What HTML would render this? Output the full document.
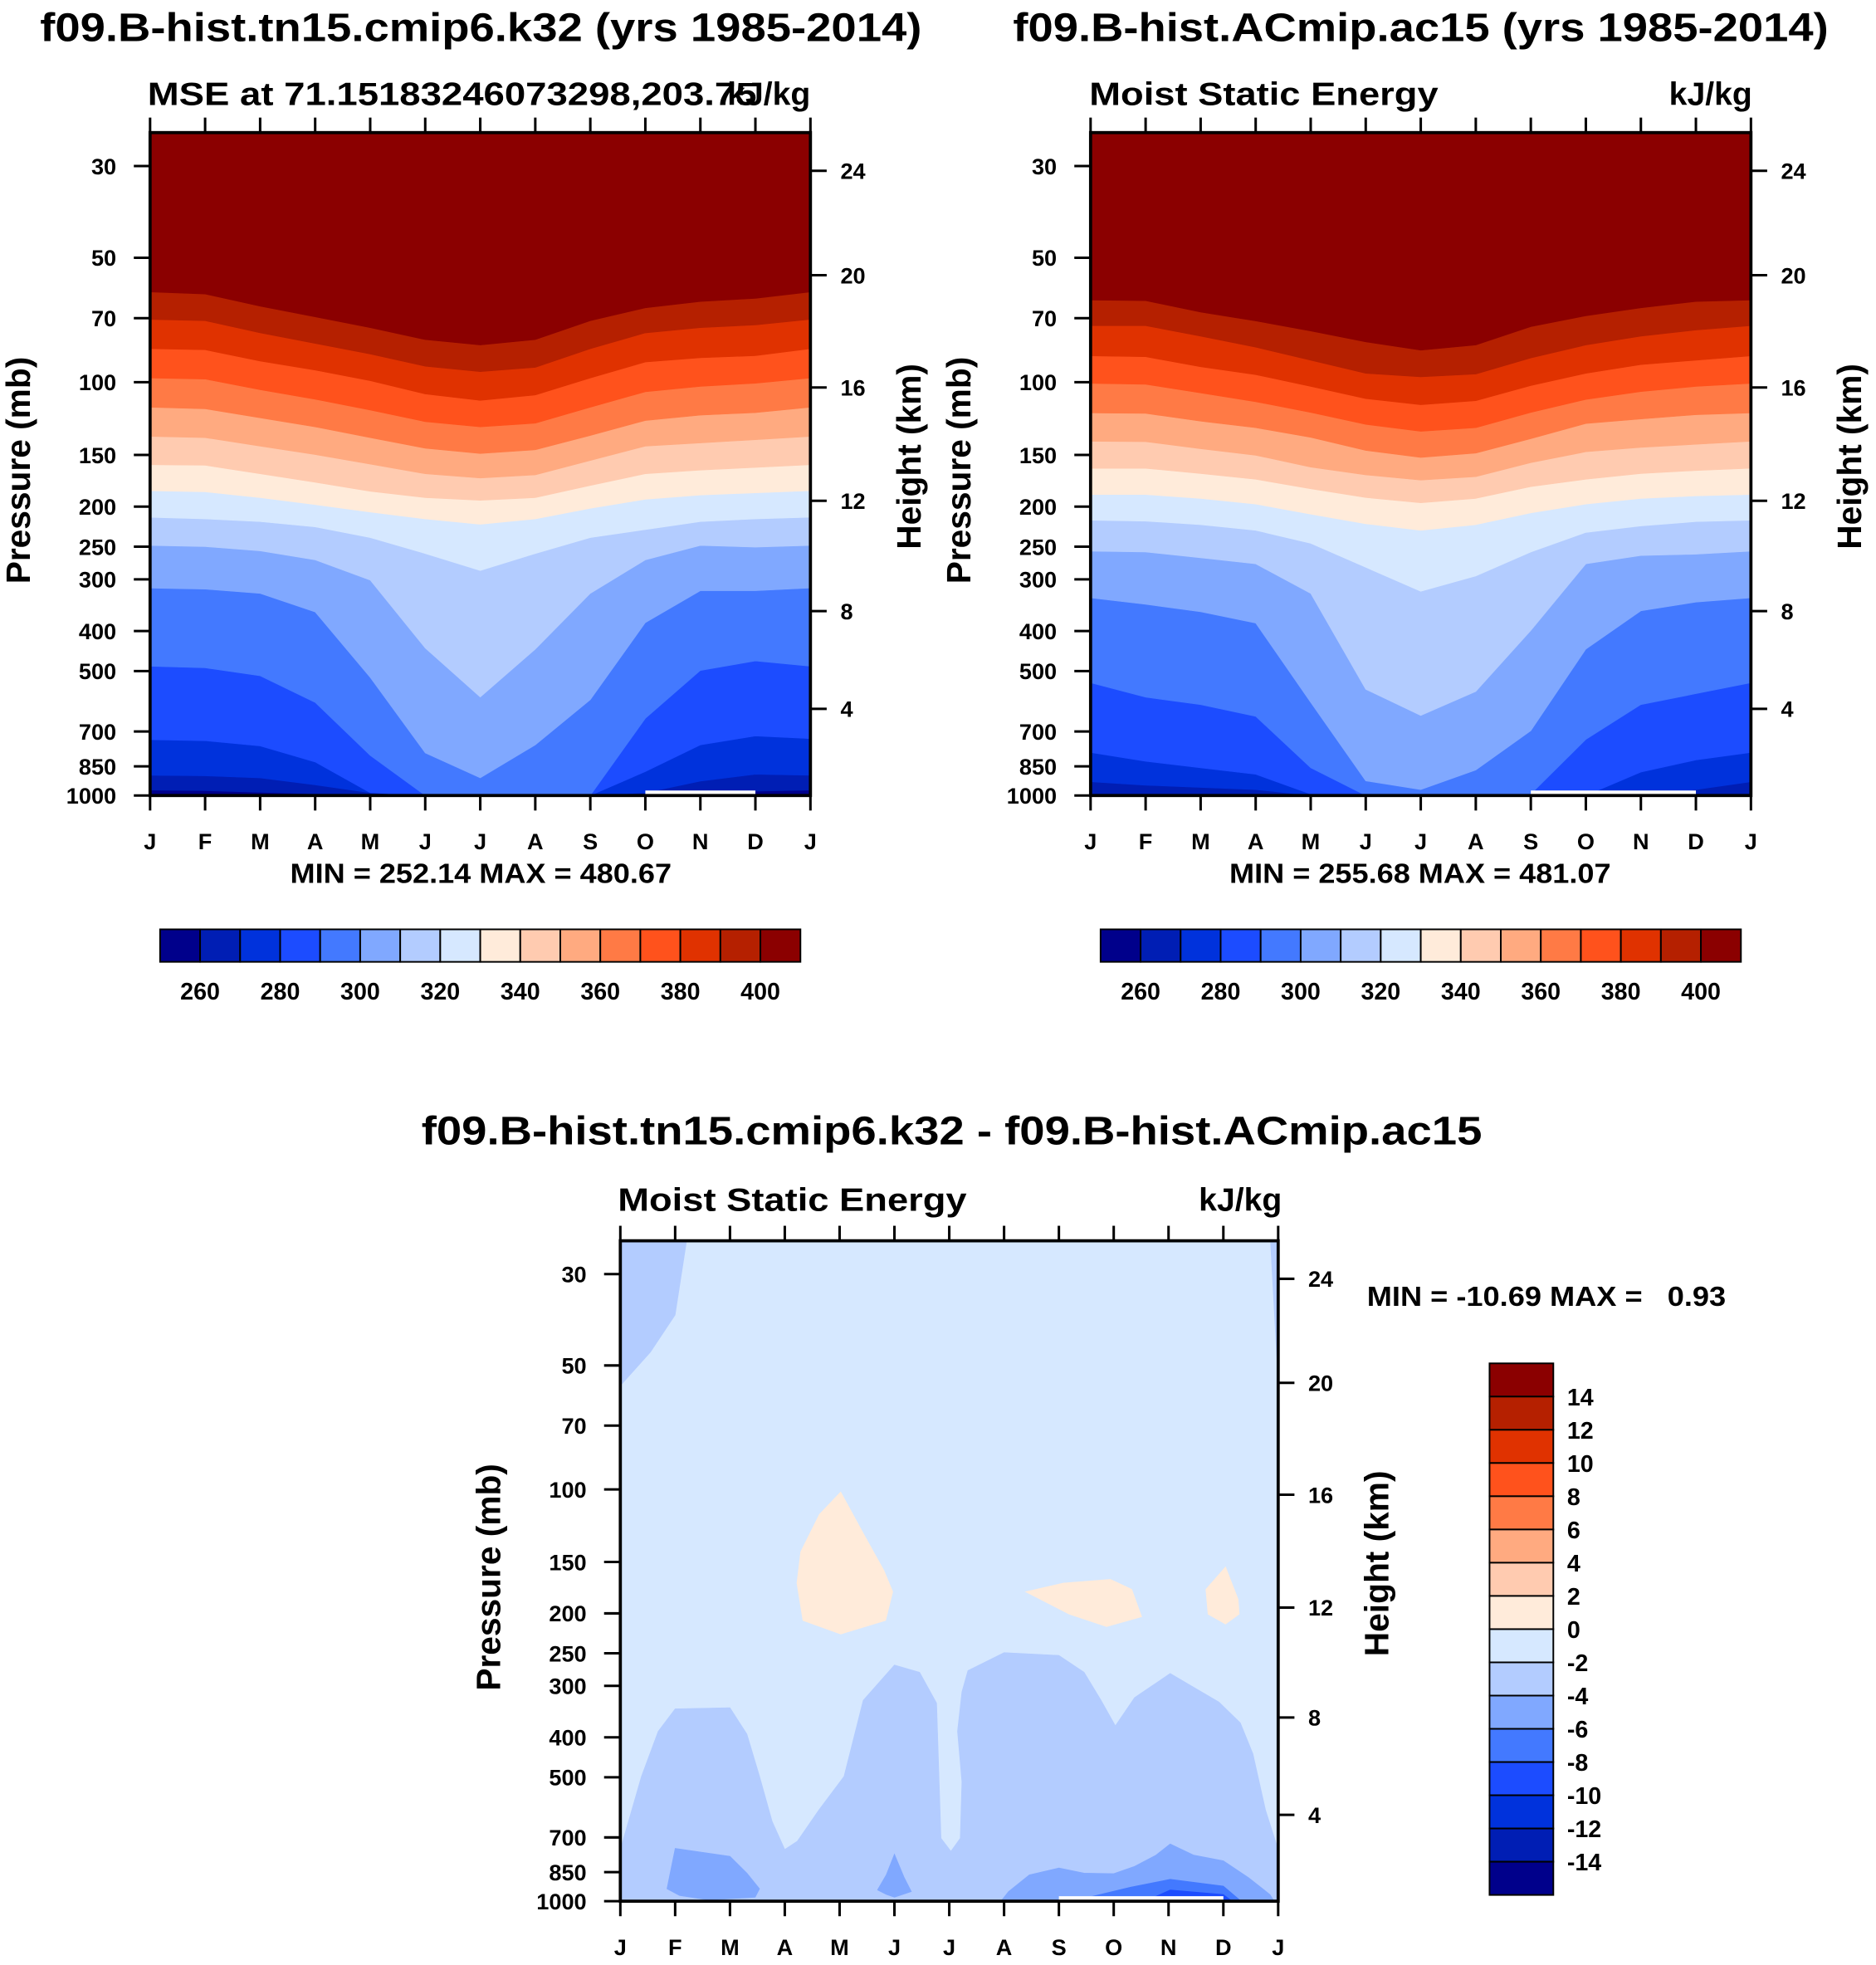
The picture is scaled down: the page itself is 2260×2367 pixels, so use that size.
<!DOCTYPE html>
<html><head><meta charset="utf-8">
<style>
html,body{margin:0;padding:0;background:#fff;}
svg{display:block;}
text{font-family:"Liberation Sans",Arial,sans-serif;font-weight:bold;fill:#000;}
</style></head>
<body>
<svg id="fig" xmlns="http://www.w3.org/2000/svg" width="2260" height="2367" viewBox="0 0 1500 1571">
<rect x="0" y="0" width="1500" height="1571" fill="#fff"/>
</svg>
<script>
// ---------- data ----------
const monthLabels = ["J","F","M","A","M","J","J","A","S","O","N","D","J"];
const pressureTicks = [30,50,70,100,150,200,250,300,400,500,700,850,1000];
const heightTicks = [24,20,16,12,8,4];
const heightTickPressures = [30.8,55.1,103,193.6,358,617];
const mseColors = ["#00008B","#001EB4","#0032DC","#1C4CFF","#4379FF","#80A8FF","#B3CCFF","#D6E8FF","#FFEBDA","#FFCBB0","#FFAA80","#FF7A45","#FF521C","#E03200","#B52000","#8B0000"];
const mseLevels = [260,270,280,290,300,310,320,330,340,350,360,370,380,390,400];
const mseBarLabels = [260,280,300,320,340,360,380,400];
const diffLevels = [-14,-12,-10,-8,-6,-4,-2,0,2,4,6,8,10,12,14];
const diffBarLabels = [14,12,10,8,6,4,2,0,-2,-4,-6,-8,-10,-12,-14];

// pressure (mb) of each contour level, by month J..J  (panel 1: tn15.cmip6.k32)
const mse1Boundaries = [
 [970.8,973.7,982.4,991,1000,1000,1000,1000,1000,1000,1000,976.6,970.8],
 [893.9,896.5,906.7,942.5,985,1000,1000,1000,1000,985,923.1,888.8,893.9],
 [732.8,737.0,759.0,829.8,985,1000,1000,1000,1000,875.4,754.6,717.8,728.5],
 [486.8,491.1,513.5,595.5,800,1000,1000,1000,1000,651,498.4,472.6,486.8],
 [314.9,316.8,324.4,359.8,518.2,789.0,906.7,754.6,586.7,381.9,319.6,319.6,314.9],
 [248.4,249.9,256.0,269.2,301.3,440.0,578.1,442.6,324.4,269.2,248.4,250.7,248.4],
 [212.3,214.2,217.5,224.0,237.7,259.8,285.6,259.8,237.7,227.4,217.5,214.2,212.3],
 [183.1,184.2,190.3,197.8,206.2,214.2,220.7,214.2,201.9,192.0,187.5,185.3,183.1],
 [158.4,158.9,166.6,174.7,183.7,190.3,193.1,190.3,177.8,166.6,163.2,160.8,158.4],
 [135.3,136.2,142.8,149.7,157.9,166.6,170.6,167.6,154.7,142.8,140.3,137.8,135.3],
 [115.0,116.0,122.0,128.3,136.2,144.5,148.8,145.8,134.6,123.8,120.2,118.5,115.0],
 [97.7,98.3,104.3,110.0,116.8,124.6,128.3,125.7,115.0,105.5,102.4,100.6,97.7],
 [83.0,83.5,88.9,93.5,99.2,106.8,110.7,107.4,97.7,89.4,87.3,86.3,83.0],
 [70.5,71.0,76.0,80.6,85.5,91.5,94.3,92.1,83.0,76.0,73.8,72.7,70.5],
 [60.5,61.2,65.5,69.5,73.8,78.9,81.3,78.9,71.0,66.1,63.8,62.7,60.5]
];
// panel 2: ACmip.ac15
const mse2Boundaries = [
 [1000,1000,1000,1000,1000,1000,1000,1000,1000,1000,1000,1000,1000],
 [926.4,944.5,956,967.8,1000,1000,1000,1000,1000,1000,1000,967.8,926.4],
 [787.1,826.5,857.1,888.8,992,1000,1000,1000,1000,1000,878.0,820.4,787.1],
 [533.8,578.4,602.8,643.4,857.1,1000,1000,1000,992,731.9,602.8,567.2,533.8],
 [332.5,344.8,359.3,382.7,595.6,922.0,967.8,867.7,697.4,442.6,357.6,340.6,332.5],
 [256.4,257.6,266.0,275.2,324.5,553.5,640.3,560.2,398.9,275.2,262.7,260.8,256.4],
 [215.8,216.9,221.2,228.3,245.4,280.5,320.7,294.4,257.6,231.0,222.8,217.5,215.8],
 [187.0,187.0,191.1,197.2,208.6,220.1,228.3,221.2,207.1,197.2,191.1,188.4,187.0],
 [161.6,161.6,166.4,171.8,181.1,190.2,195.8,191.1,179.0,171.8,166.4,163.6,161.6],
 [139.0,139.3,144.9,150.3,160.5,167.6,172.6,169.3,156.6,147.4,143.8,141.4,139.0],
 [118.7,119.0,124.3,128.9,136.0,146.3,152.1,148.5,137.0,125.9,122.8,119.9,118.7],
 [100.7,101.2,106.2,111.5,118.4,126.5,131.5,128.9,118.4,110.1,105.4,102.4,100.7],
 [86.4,86.8,91.8,95.9,102.4,109.6,113.4,110.9,101.9,95.2,90.7,88.5,86.4],
 [73.0,73.0,77.4,82.3,88.5,95.2,97.1,95.6,87.4,81.3,77.4,74.8,73.0],
 [63.3,63.5,67.7,71.1,75.2,79.9,83.7,81.3,73.4,69.1,66.1,63.8,63.3]
];
// difference panel regions: [month, pressure] vertices, and region values (kJ/kg)
const diffBackgroundValue = -1;
const diffRegionValues = [-3,-3,-3,-5,-5,-5,-7,-9,1,1,1];
const diffRegionTopLeft = [[0,20],[1.32,20],[1.0,37.7],[0.55,46.4],[0,56.0]];
const diffRegionTopRight = [[11.82,20],[12,20],[12,55.3]];
const diffRegionLower = [[0,1000],[0,748.5],[0.385,497.5],[0.69,386.7],[1.0,341],[2.0,338.9],[2.31,392.9],[2.54,497.5],[2.77,639.8],[3.0,748.5],[3.23,714.5],[3.62,600.6],[4.08,497.5],[4.43,325.2],[5.0,266.9],[5.46,278],[5.77,330.4],[5.85,703.1],[6.03,756.2],[6.2,703.1],[6.23,513.4],[6.15,386.7],[6.23,310.3],[6.34,275.4],[7.0,249],[8.0,252.9],[8.46,278],[8.77,325.2],[9.03,374.8],[9.38,320.2],[10.03,279.8],[10.92,328.4],[11.31,368.9],[11.54,438.6],[11.77,600.6],[12,748.5],[12,1000]];
const diffRegionFebMar = [[0.85,933],[1.0,744.2],[2.0,777.9],[2.31,854.6],[2.54,933],[2.46,978.2],[1.62,993.7],[1.08,969]];
const diffRegionJune = [[4.69,939],[4.85,862.8],[5.0,768.1],[5.18,876.7],[5.31,948],[5.0,978.2],[4.85,963]];
const diffRegionAutumn = [[6.85,1000],[7.08,948],[7.46,862.8],[8.0,830.3],[8.46,854.6],[9.0,857.1],[9.38,822.7],[9.77,772.7],[10.03,725.8],[10.46,772.7],[11.0,797.7],[11.46,876.7],[11.85,963],[12,1000]];
const diffRegionNov6 = [[8.54,1000],[8.54,978],[9.31,924.4],[10.03,884.6],[11.0,918.7],[11.46,1000]];
const diffRegionNov8 = [[9.31,1000],[10.03,939],[11.0,963],[11.31,1000]];
const diffRegionMay = [[4.02,101.4],[4.43,127.7],[4.81,157.4],[4.97,177.2],[4.84,208.1],[4.02,224.6],[3.33,208.1],[3.22,168.8],[3.29,141.7],[3.63,115.0]];
const diffRegionSepOct = [[7.39,177.2],[8.08,168.8],[8.94,165.3],[9.33,174.8],[9.51,203.8],[8.87,215.4],[8.19,200.9]];
const diffRegionDec = [[11.04,154.2],[11.27,184.8],[11.29,200.9],[11.04,212.4],[10.72,200.9],[10.68,174.8]];
const mse1Missing = [9,11];
const mse2Missing = [8,11];
const diffMissing = [8,11];

// ---------- drawing ----------
const NS = "http://www.w3.org/2000/svg";
const svg = document.getElementById("fig");
const P_TOP = 24.9, P_BOT = 1000;
function mk(tag, attrs, parent){
  const e = document.createElementNS(NS, tag);
  for (const k in attrs) e.setAttribute(k, attrs[k]);
  (parent||svg).appendChild(e);
  return e;
}
function txt(str, attrs, parent){ const t = mk("text", attrs, parent); t.textContent = str; return t; }
function makeAxes(P){
  return {
    x: m => P.x + P.w * m / 12,
    y: p => { const q = Math.min(Math.max(p, 1), 1000); return P.y + P.h * (Math.log10(q) - Math.log10(P_TOP)) / (Math.log10(P_BOT) - Math.log10(P_TOP)); }
  };
}
function bandColorMse(v){ let i = 0; while (i < mseLevels.length && v >= mseLevels[i]) i++; return mseColors[i]; }
function bandColorDiff(v){ let i = 0; while (i < diffLevels.length && v >= diffLevels[i]) i++; return mseColors[i]; }

function drawFrame(P, A, g, name){
  for (let i = 0; i < 13; i++){
    const x = A.x(i);
    const t1 = mk("line",{x1:x,y1:P.y,x2:x,y2:P.y-12,stroke:"#000","stroke-width":2},g);
    
    
    const t2 = mk("line",{x1:x,y1:P.y+P.h,x2:x,y2:P.y+P.h+12,stroke:"#000","stroke-width":2},g);
    
    
    const l = txt(monthLabels[i],{x:x,y:P.y+P.h+43,"text-anchor":"middle","font-size":18},g);
    
    
  }
  pressureTicks.forEach(p => {
    const y = A.y(p);
    const t = mk("line",{x1:P.x,y1:y,x2:P.x-13,y2:y,stroke:"#000","stroke-width":2},g);
    
    
    const l = txt(String(p),{x:P.x-27,y:y+6.5,"text-anchor":"end","font-size":18},g);
    
    
  });
  heightTicks.forEach((h, i) => {
    const y = A.y(heightTickPressures[i]);
    const t = mk("line",{x1:P.x+P.w,y1:y,x2:P.x+P.w+13,y2:y,stroke:"#000","stroke-width":2},g);
    
    
    const l = txt(String(h),{x:P.x+P.w+24,y:y+6.5,"font-size":18},g);
    
    
  });
  const fr = mk("rect",{x:P.x,y:P.y,width:P.w,height:P.h,fill:"none",stroke:"#000","stroke-width":2.5},g);
  
  
  const yl = txt("Pressure (mb)",{x:0,y:0,"text-anchor":"middle","font-size":27,transform:`translate(${P.x-96},${P.y+P.h/2+5}) rotate(-90)`},g);
  
  
  const hl = txt("Height (km)",{x:0,y:0,"text-anchor":"middle","font-size":27,transform:`translate(${P.x+P.w+88},${P.y+P.h/2-6}) rotate(-90)`},g);
  
  
}
function clipFor(P, id){
  let defs = svg.querySelector("defs") || mk("defs",{});
  const cp = mk("clipPath",{id:id},defs);
  mk("rect",{x:P.x,y:P.y,width:P.w,height:P.h},cp);
}
function missingStrip(P, A, range, g){
  const r = mk("rect",{x:A.x(range[0]),y:P.y+P.h-4,width:A.x(range[1])-A.x(range[0]),height:3,fill:"#fff"},g);
  
  
}
function drawMsePanel(P, bounds, missing, id){
  const A = makeAxes(P);
  const g = mk("g",{});
  
  
  clipFor(P, id + "-clip");
  const cg = mk("g",{"clip-path":`url(#${id}-clip)`},g);
  const base = mk("rect",{x:P.x,y:P.y,width:P.w,height:P.h,fill:mseColors[0]},cg);
  
  
  bounds.forEach((row, k) => {
    const pts = row.map((p, i) => `${A.x(i).toFixed(2)},${A.y(p).toFixed(2)}`);
    pts.push(`${P.x+P.w},${P.y-5}`, `${P.x},${P.y-5}`);
    const poly = mk("polygon",{points:pts.join(" "),fill:bandColorMse(mseLevels[k]),stroke:bandColorMse(mseLevels[k]),"stroke-width":0.4},cg);
    
    
  });
  missingStrip(P, A, missing, cg);
  drawFrame(P, A, g, id);
  return g;
}
function drawMseColorbar(x0, y0, w, h){
  const g = mk("g",{});
  
  
  const bw = w / mseColors.length;
  mseColors.forEach((c, i) => {
    const r = mk("rect",{x:x0+i*bw,y:y0,width:bw,height:h,fill:c,stroke:"#000","stroke-width":1.3},g);
    
    
  });
  mseBarLabels.forEach(v => {
    const i = mseLevels.indexOf(v) + 1;
    const l = txt(String(v),{x:x0+i*bw,y:y0+h+30,"text-anchor":"middle","font-size":19},g);
    
    
  });
}

let t;
t = txt("f09.B-hist.tn15.cmip6.k32 (yrs 1985-2014)",{x:32,y:33,"font-size":32,textLength:705,lengthAdjust:"spacingAndGlyphs"});
 
t = txt("MSE at 71.15183246073298,203.75",{x:118,y:84,"font-size":26,textLength:487,lengthAdjust:"spacingAndGlyphs"});
 
t = txt("kJ/kg",{x:648,y:84,"text-anchor":"end","font-size":26});
 
drawMsePanel({x:120,y:106,w:528,h:530}, mse1Boundaries, mse1Missing, "panel1-contour");
t = txt("MIN = 252.14 MAX = 480.67",{x:232,y:706,"font-size":22,textLength:305,lengthAdjust:"spacingAndGlyphs"});
 
drawMseColorbar(128,743,512,26);

t = txt("f09.B-hist.ACmip.ac15 (yrs 1985-2014)",{x:810,y:33,"font-size":32,textLength:652,lengthAdjust:"spacingAndGlyphs"});
 
t = txt("Moist Static Energy",{x:871,y:84,"font-size":26,textLength:279,lengthAdjust:"spacingAndGlyphs"});
 
t = txt("kJ/kg",{x:1401,y:84,"text-anchor":"end","font-size":26});
 
drawMsePanel({x:872,y:106,w:528,h:530}, mse2Boundaries, mse2Missing, "panel2-contour");
t = txt("MIN = 255.68 MAX = 481.07",{x:983,y:706,"font-size":22,textLength:305,lengthAdjust:"spacingAndGlyphs"});
 
drawMseColorbar(880,743,512,26);

t = txt("f09.B-hist.tn15.cmip6.k32 - f09.B-hist.ACmip.ac15",{x:337,y:915,"font-size":32,textLength:848,lengthAdjust:"spacingAndGlyphs"});
 
t = txt("Moist Static Energy",{x:494,y:968,"font-size":26,textLength:279,lengthAdjust:"spacingAndGlyphs"});
 
t = txt("kJ/kg",{x:1025,y:968,"text-anchor":"end","font-size":26});
 
(function(){
  const P = {x:496,y:992,w:526,h:528};
  const A = makeAxes(P);
  const g = mk("g",{});
  
  
  clipFor(P, "diff-clip");
  const cg = mk("g",{"clip-path":"url(#diff-clip)"},g);
  const base = mk("rect",{x:P.x,y:P.y,width:P.w,height:P.h,fill:bandColorDiff(diffBackgroundValue)},cg);
  
  
  const regions = [diffRegionTopLeft,diffRegionTopRight,diffRegionLower,diffRegionFebMar,diffRegionJune,diffRegionAutumn,diffRegionNov6,diffRegionNov8,diffRegionMay,diffRegionSepOct,diffRegionDec];
  regions.forEach((reg, i) => {
    const c = bandColorDiff(diffRegionValues[i]);
    const pts = reg.map(v => `${A.x(v[0]).toFixed(2)},${(v[1]>=1000?P.y+P.h+5:A.y(v[1])).toFixed(2)}`).join(" ");
    const poly = mk("polygon",{points:pts,fill:c,stroke:c,"stroke-width":0.4},cg);
    
    
  });
  missingStrip(P, A, diffMissing, cg);
  drawFrame(P, A, g, "diff");
})();
t = txt("MIN = -10.69 MAX =\u00a0\u00a0\u00a00.93",{x:1093,y:1044,"font-size":22,textLength:287,lengthAdjust:"spacingAndGlyphs"});
 
(function(){
  const x0 = 1191, y0 = 1090, w = 51, h = 425;
  const g = mk("g",{});
  
  
  const bh = h / mseColors.length;
  mseColors.slice().reverse().forEach((c, i) => {
    const r = mk("rect",{x:x0,y:y0+i*bh,width:w,height:bh,fill:c,stroke:"#000","stroke-width":1.3},g);
    
    
  });
  diffBarLabels.forEach((v, i) => {
    const l = txt(String(v),{x:x0+w+11,y:y0+(i+1)*bh+7,"font-size":19},g);
    
    
  });
})();
</script>
</body></html>
